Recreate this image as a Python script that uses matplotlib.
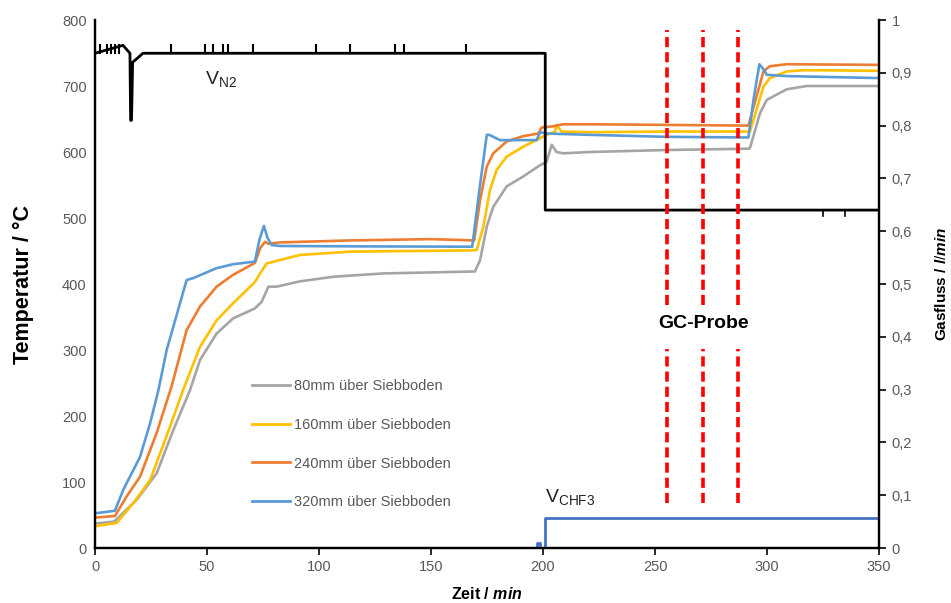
import matplotlib
matplotlib.use("Agg")
import matplotlib.pyplot as plt
import numpy as np

plt.rcParams['font.family'] = ['Liberation Sans', 'DejaVu Sans']
plt.rcParams['mathtext.fontset'] = 'custom'
plt.rcParams['mathtext.rm'] = 'Liberation Sans'
plt.rcParams['mathtext.it'] = 'Liberation Sans:italic:bold'
plt.rcParams['mathtext.bf'] = 'Liberation Sans:bold'

# ---------------- data ----------------
series_labels = ["80mm über Siebboden", "160mm über Siebboden",
                 "240mm über Siebboden", "320mm über Siebboden"]
series_colors = ["#A5A5A5", "#FFC000", "#ED7D31", "#5B9BD5"]

t80 = [0, 8.5, 18.6, 27.5, 35, 42.4, 46.9, 54.3, 61.7, 71.4, 74.4, 77.4, 81.1, 91.5,
       106.4, 128.7, 169.6, 171.9, 174.9, 177.8, 183.8, 191.2, 198.7, 201.6, 203.9, 206, 209,
       221, 255, 291.7, 292.4, 296.9, 299.9, 308.8, 317.7, 350]
v80 = [37, 40, 73, 113, 179, 239, 285, 325, 348, 363, 373, 396, 396, 404,
       411, 416, 419, 436, 487, 517, 548, 563, 580, 585, 611, 600, 598,
       600, 603, 605, 606, 659, 679, 695, 700, 700]

t160 = [0, 9.7, 17.1, 24.6, 32, 39.4, 46.9, 54.3, 61.7, 71.4, 73.7, 76.6, 81.1, 91.5, 113.8,
        168.8, 170.4, 173.4, 176.3, 179.3, 183.8, 191.2, 198.7, 201.6, 205.4, 206, 208.3,
        221, 255, 292.4, 298.4, 301.3, 308.8, 316.2, 350]
v160 = [33, 38, 68, 103, 170, 240, 305, 345, 371, 403, 416, 431, 435, 444, 449,
        451, 451.5, 487, 542, 573, 593, 608, 621, 626, 631, 641, 631,
        630, 631, 631, 699, 712, 722, 724, 723]

t240 = [0, 8.9, 14.1, 20.1, 27.5, 34.2, 40.9, 46.9, 54.3, 61.7, 71.4, 73.7, 75.9, 77.4,
        82.6, 113.8, 150, 169.3, 171.9, 174.9, 177.8, 183.8, 191.2, 197.9, 199.4, 204.6,
        209, 221, 291.7, 298.4, 301.3, 308.8, 350]
v240 = [46, 48.5, 78, 108, 174, 245, 330, 366, 396, 414, 432, 454, 464, 461,
        463, 466, 468, 466, 527, 578, 598, 616, 624, 628, 637, 639,
        642, 642, 640, 722, 730, 733, 732]

t320 = [0, 8.9, 12.6, 15.6, 20.1, 24.6, 28.3, 32, 40.9, 43.9, 54.3, 61.7, 71.4, 73.4,
        75.4, 77, 78.9, 82.6, 120, 168.4, 171.5, 174.9, 176, 180.8, 197.2, 198.7, 201.6,
        221, 255, 291.7, 294, 296.6, 298.5, 299.9, 308.8, 350]
v320 = [52.5, 56.5, 88, 108, 138, 189, 239, 300, 406, 409, 424, 430, 434, 467,
        488, 470, 459, 457.6, 457, 456.5, 540, 626, 626, 618, 618, 630, 628,
        626, 623, 622, 680, 733, 725, 717, 715, 712]

# N2 flow (l/min): base steps plus small spikes
vn2_t = [0, 12.5, 15.6, 15.9, 16.3, 16.8, 19.0, 21.4, 201.0, 201.0, 350]
vn2_v = [0.937, 0.952, 0.937, 0.81, 0.81, 0.92, 0.928, 0.937, 0.937, 0.64, 0.64]
vn2_spike_t = [2.2, 5.2, 7.0, 8.9, 10.7, 34, 49, 52.8, 57, 59.5, 70.7, 98.7, 114, 134, 138, 165.6]
vn2_dip_t = [325, 335]

# CHF3 flow (l/min)
chf3_t = [0, 197.5, 197.5, 198.5, 198.5, 201, 201, 350]
chf3_v = [0, 0, 0.01, 0.01, 0, 0, 0.057, 0.057]

# GC sampling times (min)
gc_times = [255.5, 271.5, 287.0]
gc_upper = (368, 785)
gc_lower = (68, 302)

# ---------------- figure ----------------
fig = plt.figure(figsize=(9.51, 6.03), dpi=100)
ax1 = fig.add_axes([95/951, 55/603, 784/951, 528/603])
ax2 = ax1.twinx()

series = [(t80, v80), (t160, v160), (t240, v240), (t320, v320)]
for (t, v), lab, c in zip(series, series_labels, series_colors):
    ax1.plot(t, v, color=c, lw=1.9, label=lab, solid_joinstyle='round')

ax1.set_xlim(0, 350)
ax1.set_ylim(0, 800)
ax1.set_xticks(np.arange(0, 351, 50))
ax1.set_yticks(np.arange(0, 801, 100))

# N2 line
ax2.plot(vn2_t, vn2_v, color='black', lw=2.0)
for st in vn2_spike_t:
    ax2.plot([st, st], [0.937, 0.952], color='black', lw=1.5)
for st in vn2_dip_t:
    ax2.plot([st, st], [0.64, 0.628], color='black', lw=1.2)
ax2.plot(chf3_t, chf3_v, color='#4472C4', lw=2.0)
ax2.set_ylim(0, 1)
ax2.set_yticks(np.arange(0, 1.01, 0.1))
ax2.set_yticklabels(["0"] + [f"0,{i}" for i in range(1, 10)] + ["1"])

# GC sampling lines (drawn on top)
for gt in gc_times:
    for lo, hi in (gc_upper, gc_lower):
        ax2.plot([gt, gt], [lo, hi], color='#FF0000', lw=2.6,
                 linestyle=(0, (2.8, 1.4)), transform=ax1.transData)
ax2.text(271.5, 340, "GC-Probe", transform=ax1.transData, ha='center', va='center',
         fontsize=14, fontweight='bold', color='black')

ax2.text(49, 711, r"V$_{\mathrm{N2}}$", transform=ax1.transData, fontsize=14,
         color='#222222', ha='left', va='center')
ax2.text(201, 78, r"V$_{\mathrm{CHF3}}$", transform=ax1.transData, fontsize=14,
         color='#222222', ha='left', va='center')

# spines / ticks
for ax in (ax1, ax2):
    ax.spines['top'].set_visible(False)
    for s in ('left', 'bottom', 'right'):
        ax.spines[s].set_color('black')
        ax.spines[s].set_linewidth(1.6)
ax1.tick_params(axis='y', length=0, labelsize=10.5, labelcolor='#595959', pad=6)
ax1.tick_params(axis='x', direction='out', length=5, width=1.2, labelsize=10.5,
                labelcolor='#595959', color='black')
ax2.tick_params(axis='y', direction='out', length=5, width=1.2, labelsize=10.5,
                labelcolor='#595959', color='black', pad=4)

ax1.set_ylabel("Temperatur / °C", fontsize=15.5, fontweight='bold', labelpad=20)
ax1.set_xlabel(r"Zeit / $\mathit{min}$", fontsize=11.5, fontweight='bold', labelpad=9)
ax2.set_ylabel(r"Gasfluss / $\mathit{l/min}$", fontsize=11, fontweight='bold', labelpad=16)

leg = ax1.legend(loc='upper left', bbox_to_anchor=(0.183, 0.345), frameon=False,
                 fontsize=10.5, labelspacing=1.7, handlelength=2.6, handletextpad=0.3,
                 labelcolor='#595959')
for h in leg.get_lines():
    h.set_linewidth(2.0)

fig.savefig("out.png", dpi=100)
